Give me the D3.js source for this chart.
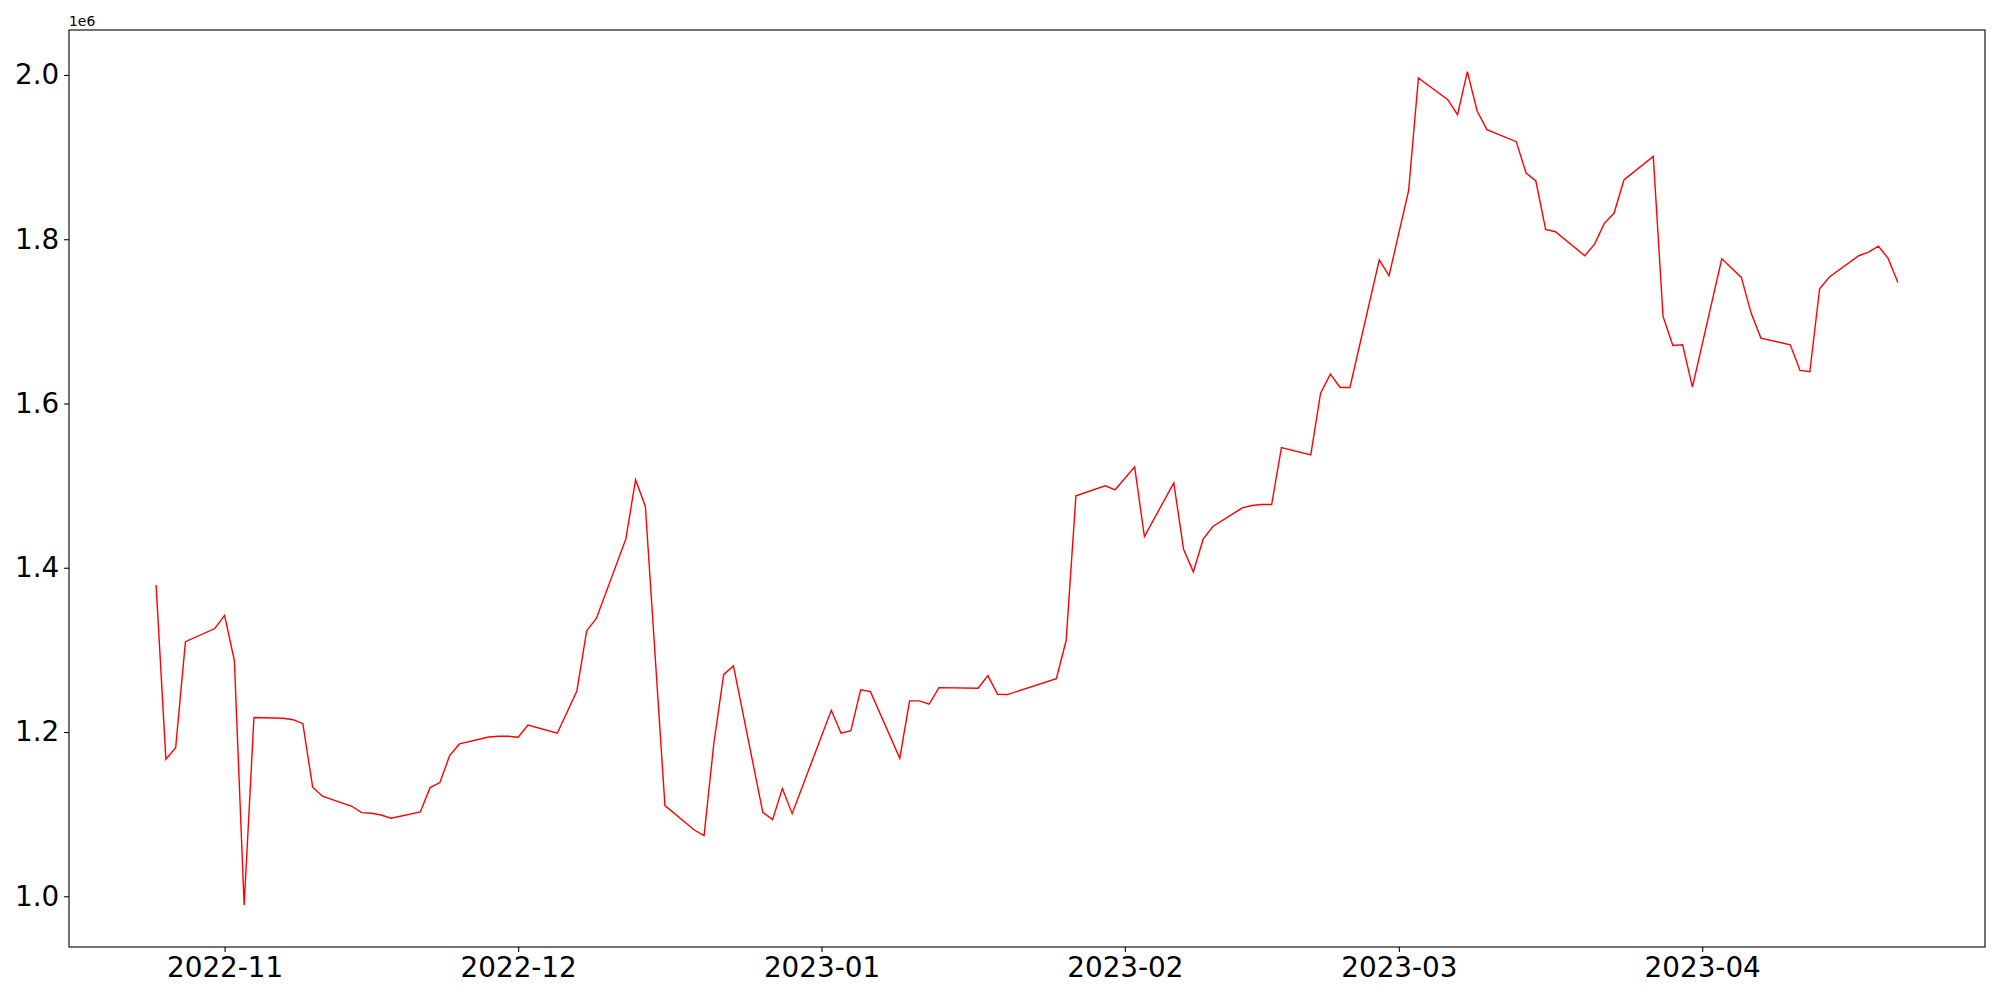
<!DOCTYPE html>
<html>
<head>
<meta charset="utf-8">
<script src="https://cdn.jsdelivr.net/npm/d3@7"></script>
<style>
  html, body { margin: 0; padding: 0; background: #fff; }
  svg { display: block; font-family: "DejaVu Sans", sans-serif; }
</style>
</head>
<body>
<svg id="chart" width="2000" height="1000"></svg>
<script>
const dates = [
  "2022-10-25","2022-10-26","2022-10-27","2022-10-28","2022-10-31",
  "2022-11-01","2022-11-02","2022-11-03","2022-11-04","2022-11-07","2022-11-08","2022-11-09","2022-11-10","2022-11-11",
  "2022-11-14","2022-11-15","2022-11-16","2022-11-17","2022-11-18","2022-11-21","2022-11-22","2022-11-23","2022-11-24","2022-11-25",
  "2022-11-28","2022-11-29","2022-11-30","2022-12-01","2022-12-02","2022-12-05","2022-12-07","2022-12-08","2022-12-09",
  "2022-12-12","2022-12-13","2022-12-14","2022-12-16","2022-12-19","2022-12-20","2022-12-21","2022-12-22","2022-12-23",
  "2022-12-26","2022-12-27","2022-12-28","2022-12-29","2023-01-02","2023-01-03","2023-01-04","2023-01-05","2023-01-06",
  "2023-01-09","2023-01-10","2023-01-11","2023-01-12","2023-01-13","2023-01-17","2023-01-18","2023-01-19","2023-01-20",
  "2023-01-25","2023-01-26","2023-01-27","2023-01-30","2023-01-31","2023-02-02","2023-02-03","2023-02-06","2023-02-07",
  "2023-02-08","2023-02-09","2023-02-10","2023-02-13","2023-02-14","2023-02-15","2023-02-16","2023-02-17","2023-02-20",
  "2023-02-21","2023-02-22","2023-02-23","2023-02-24","2023-02-27","2023-02-28","2023-03-02","2023-03-03","2023-03-06",
  "2023-03-07","2023-03-08","2023-03-09","2023-03-10","2023-03-13","2023-03-14","2023-03-15","2023-03-16","2023-03-17",
  "2023-03-20","2023-03-21","2023-03-22","2023-03-23","2023-03-24","2023-03-27","2023-03-28","2023-03-29","2023-03-30",
  "2023-03-31","2023-04-03","2023-04-05","2023-04-06","2023-04-07","2023-04-10","2023-04-11","2023-04-12","2023-04-13",
  "2023-04-14","2023-04-17","2023-04-18","2023-04-19","2023-04-20","2023-04-21"
];
const values = [
  1379000,1167000,1181000,1310000,1326000,
  1342000,1287000,989000,1217600,1216800,1215000,1210200,1132800,1121800,
  1109600,1101800,1101100,1099000,1095000,1102700,1132300,1138400,1171300,1185500,
  1194000,1194900,1194900,1193700,1208600,1198500,1250000,1323100,1338600,
  1434800,1507100,1474600,1110400,1080700,1073800,1186300,1269900,1280500,
  1102300,1093300,1131100,1100600,1226500,1198500,1201700,1251300,1249200,
  1168100,1237900,1237900,1233800,1254100,1253300,1268700,1246000,1245600,
  1265000,1311400,1487600,1499800,1494900,1522900,1438000,1503400,1422600,
  1395000,1434800,1450200,1473000,1475800,1477000,1477000,1546400,1537500,
  1612600,1635800,1619500,1619500,1775000,1755500,1859400,1996300,1969900,
  1951600,2004000,1956100,1933400,1918800,1880600,1870900,1811900,1809100,
  1779900,1794100,1819300,1831900,1872100,1900900,1706000,1670700,1671500,
  1620000,1776200,1753500,1710100,1679600,1671500,1640200,1638600,1739700,
  1754000,1779900,1784400,1791700,1776700,1747400
];
const xTickDates = ["2022-11-01","2022-12-01","2023-01-01","2023-02-01","2023-03-01","2023-04-01"];
const xTickLabels = ["2022-11","2022-12","2023-01","2023-02","2023-03","2023-04"];
const yTickValues = [1000000,1200000,1400000,1600000,1800000,2000000];
const yTickLabels = ["1.0","1.2","1.4","1.6","1.8","2.0"];
const offsetLabel = "1e6";

(function () {
  const parse = d3.utcParse("%Y-%m-%d");
  const data = dates.map((d, i) => ({ date: parse(d), value: values[i] }));

  const svg = d3.select("#chart");
  const mLeft = 69, mRight = 1985, mTop = 30, mBottom = 947;

  const xExt = d3.extent(data, d => d.date);
  const xPad = (xExt[1] - xExt[0]) * 0.05;
  const x = d3.scaleUtc()
    .domain([new Date(+xExt[0] - xPad), new Date(+xExt[1] + xPad)])
    .range([mLeft, mRight]);

  const yExt = d3.extent(data, d => d.value);
  const yPad = (yExt[1] - yExt[0]) * 0.05;
  const y = d3.scaleLinear()
    .domain([yExt[0] - yPad, yExt[1] + yPad])
    .range([mBottom, mTop]);

  const fontSize = 27.8;

  svg.append("path")
    .datum(data)
    .attr("fill", "none")
    .attr("stroke", "#ff0000")
    .attr("stroke-width", 1.4)
    .attr("stroke-linejoin", "miter")
    .attr("d", d3.line().x(d => x(d.date)).y(d => y(d.value)));

  const xAxis = d3.axisBottom(x)
    .tickValues(xTickDates.map(parse))
    .tickFormat((d, i) => xTickLabels[i])
    .tickSizeInner(4.9).tickSizeOuter(0).tickPadding(4.9);
  const gx = svg.append("g").attr("transform", `translate(0,${mBottom})`).call(xAxis);
  gx.select(".domain").remove();
  gx.selectAll("line").attr("stroke", "#000").attr("stroke-width", 1.1);
  gx.selectAll("text").attr("font-size", fontSize).attr("fill", "#000")
    .attr("font-family", "DejaVu Sans");

  const yAxis = d3.axisLeft(y)
    .tickValues(yTickValues)
    .tickFormat((d, i) => yTickLabels[i])
    .tickSizeInner(4.9).tickSizeOuter(0).tickPadding(4.9);
  const gy = svg.append("g").attr("transform", `translate(${mLeft},0)`).call(yAxis);
  gy.select(".domain").remove();
  gy.selectAll("line").attr("stroke", "#000").attr("stroke-width", 1.1);
  gy.selectAll("text").attr("font-size", fontSize).attr("fill", "#000")
    .attr("font-family", "DejaVu Sans");

  svg.append("rect")
    .attr("x", mLeft).attr("y", mTop)
    .attr("width", mRight - mLeft).attr("height", mBottom - mTop)
    .attr("fill", "none").attr("stroke", "#000").attr("stroke-width", 1.1);

  svg.append("text")
    .attr("x", mLeft).attr("y", mTop - 4)
    .attr("font-size", 13.9).attr("font-family", "DejaVu Sans").attr("fill", "#000")
    .text(offsetLabel);
})();
</script>
</body>
</html>
